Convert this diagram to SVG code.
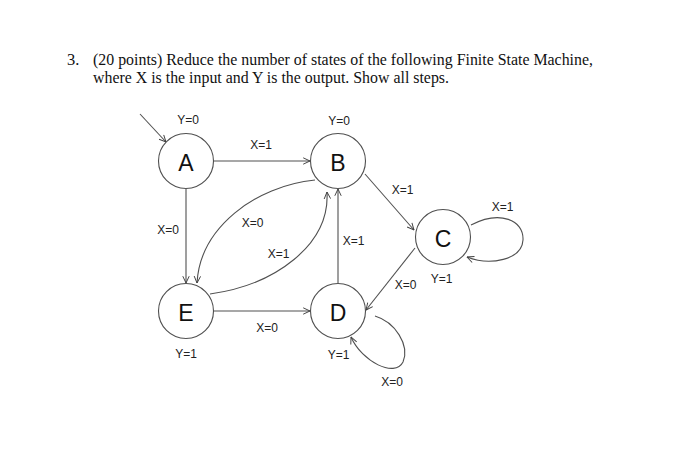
<svg xmlns="http://www.w3.org/2000/svg" width="700" height="458" viewBox="0 0 700 458">
<defs>
<marker id="arr" viewBox="0 0 10 10" refX="9.5" refY="5" markerWidth="8" markerHeight="8" orient="auto" markerUnits="userSpaceOnUse">
<path d="M1,1 L9.5,5 L1,9" fill="none" stroke="#404040" stroke-width="1.2"/>
</marker>
<style>
.title{font-family:"Liberation Serif","Times New Roman",serif;font-size:16.5px;fill:#111}
.node circle{fill:#fff;stroke:#505050;stroke-width:1.1}
.node text{font-family:"Liberation Sans",Arial,sans-serif;font-size:23px;fill:#111;text-anchor:middle}
.lbl{font-family:"Liberation Sans",Arial,sans-serif;font-size:12px;fill:#222;text-anchor:middle}
.edge{fill:none;stroke:#505050;stroke-width:1.1;marker-end:url(#arr)}
</style>
</defs>
<rect width="700" height="458" fill="#fff"/>
<text class="title" x="67" y="65">3.</text>
<text class="title" x="93" y="65" textLength="500" lengthAdjust="spacingAndGlyphs">(20 points) Reduce the number of states of the following Finite State Machine,</text>
<text class="title" x="93" y="83" textLength="356" lengthAdjust="spacingAndGlyphs">where X is the input and Y is the output. Show all steps.</text>

<g id="connectors">
<path class="edge" d="M140,114 L166,142"/>
<path class="edge" d="M213,161 L310,161"/>
<path class="edge" d="M186,189 L186,283"/>
<path class="edge" d="M213,311 L310,311"/>
<path class="edge" d="M338,283 L338,189"/>
<path class="edge" d="M315,180 C255,186 200,228 197,283"/>
<path class="edge" d="M210,294 C275,285 330,245 327,192"/>
<path class="edge" d="M365,174 L414,230"/>
<path class="edge" d="M415,248 L366,310"/>
<path class="edge" d="M471,225 C500,210 524,220 523,240 C522,260 490,266 467,257"/>
<path class="edge" d="M375,316 C395,322 410,345 403,362 C395,378 362,362 351,337"/>
</g>

<g id="node-A" class="node"><circle cx="186" cy="161" r="27.5"/><text x="186" y="171">A</text></g>
<g id="node-B" class="node"><circle cx="338" cy="161" r="27.5"/><text x="338" y="171">B</text></g>
<g id="node-C" class="node"><circle cx="443" cy="237" r="27.5"/><text x="443" y="247">C</text></g>
<g id="node-D" class="node"><circle cx="338" cy="311" r="27.5"/><text x="338" y="321">D</text></g>
<g id="node-E" class="node"><circle cx="186" cy="311" r="27.5"/><text x="186" y="321">E</text></g>

<g id="labels">
<text class="lbl" x="188" y="124">Y=0</text>
<text class="lbl" x="339" y="125">Y=0</text>
<text class="lbl" x="261" y="149">X=1</text>
<text class="lbl" x="168" y="234">X=0</text>
<text class="lbl" x="252.5" y="227">X=0</text>
<text class="lbl" x="278.5" y="258">X=1</text>
<text class="lbl" x="353.5" y="245">X=1</text>
<text class="lbl" x="402.5" y="194">X=1</text>
<text class="lbl" x="502.5" y="211">X=1</text>
<text class="lbl" x="441.5" y="283">Y=1</text>
<text class="lbl" x="405.5" y="289">X=0</text>
<text class="lbl" x="267" y="332">X=0</text>
<text class="lbl" x="186" y="358">Y=1</text>
<text class="lbl" x="338.5" y="359">Y=1</text>
<text class="lbl" x="392" y="386">X=0</text>
</g>
</svg>
